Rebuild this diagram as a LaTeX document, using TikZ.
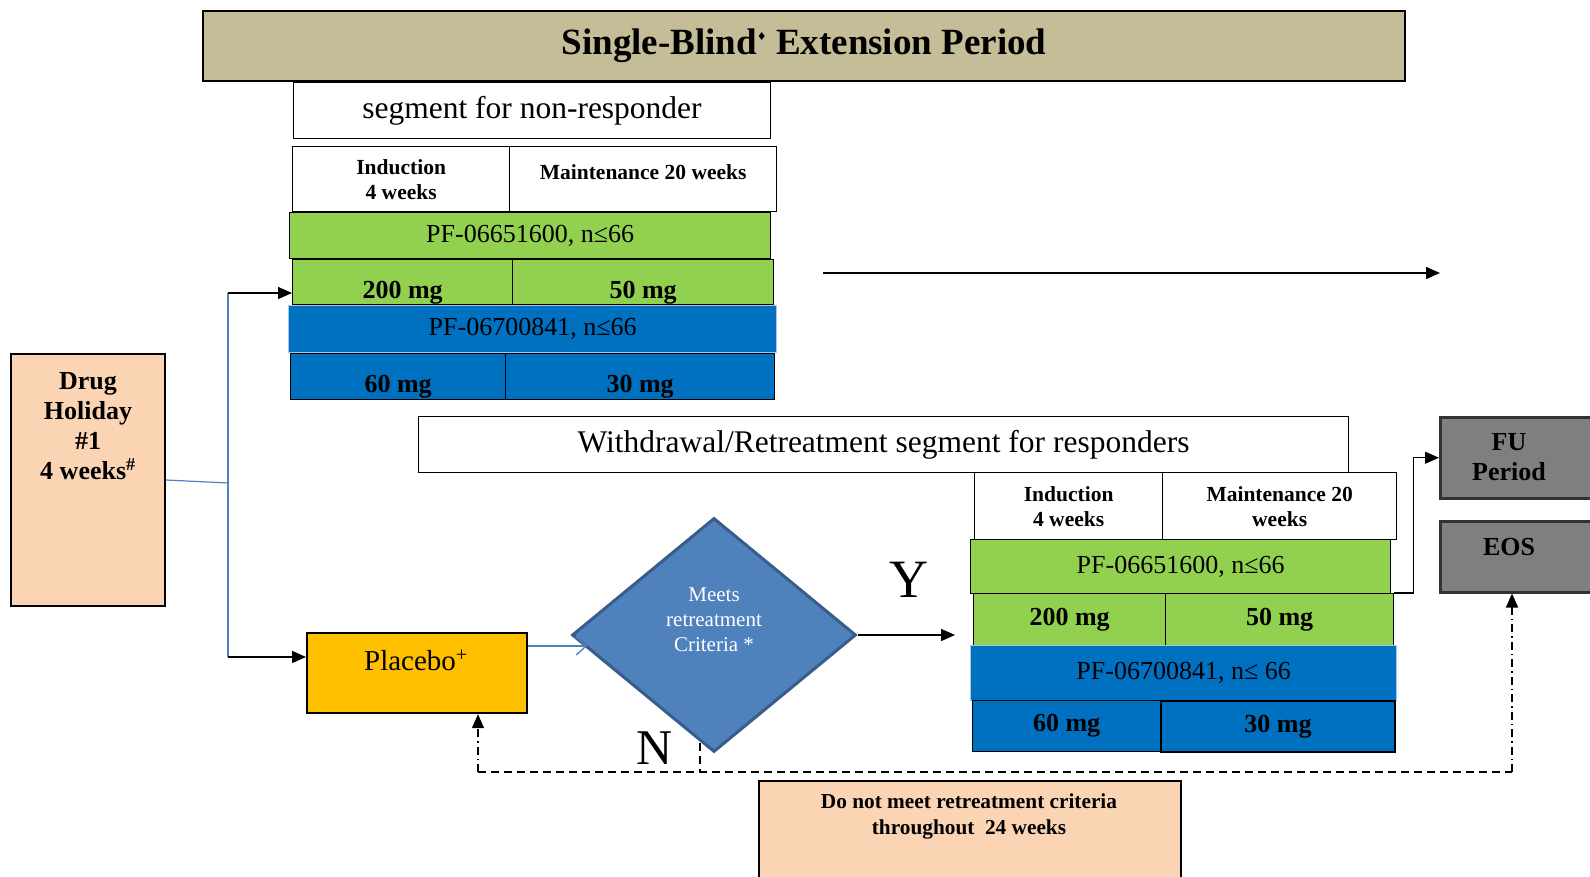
\documentclass[tikz,border=0pt]{standalone}
\usepackage{fontspec}
\setmainfont{Liberation Serif}
\newfontfamily\symfont{DejaVu Sans}
\usetikzlibrary{shapes.geometric,arrows.meta,positioning}

\definecolor{tanbar}{HTML}{C4BD97}
\definecolor{drugpeach}{HTML}{FBD4B4}
\definecolor{pfgreen}{HTML}{92D050}
\definecolor{pfblue}{HTML}{0070C0}
\definecolor{barline}{HTML}{A9C6E8}
\definecolor{placebogold}{HTML}{FFC000}
\definecolor{critblue}{HTML}{4F81BD}
\definecolor{critedge}{HTML}{385D8A}
\definecolor{fugray}{HTML}{7F7F7F}

\tikzset{
  box/.style={draw, line width=1.3pt, inner sep=0pt, anchor=north west, align=center},
  segbox/.style={box, fill=white, line width=1pt, font=\fontsize{31.5}{36}\selectfont},
  hdr/.style={box, fill=white, font=\fontsize{21.5}{25}\selectfont\bfseries},
  greenbar/.style={box, fill=pfgreen, font=\fontsize{26}{30}\selectfont},
  bluebar/.style={box, fill=pfblue, draw=barline, font=\fontsize{26}{30}\selectfont},
  dose/.style={box, font=\fontsize{26}{30}\selectfont\bfseries},
  boldtxt/.style={inner sep=0pt, align=center, font=\fontsize{26}{30}\selectfont\bfseries},
  decide/.style={diamond, draw=critedge, line width=3pt, fill=critblue, minimum width=284, minimum height=234, inner sep=0pt},
  arr/.style={-{Triangle[length=14pt,width=12pt]}, line width=1.5pt},
  bline/.style={critblue, line width=1.2pt},
  dashln/.style={line width=1.3pt, dash pattern=on 8pt off 5pt},
  dashdotln/.style={-{Triangle[length=14pt,width=12pt]}, line width=1.3pt, dash pattern=on 8pt off 4pt on 1.5pt off 4pt}
}

\begin{document}
\begin{tikzpicture}[x=1pt,y=-1pt]
    \useasboundingbox (0,0) rectangle (1590,877);
    \clip (0,0) rectangle (1590,877);

    % Period title
    \node[box, fill=tanbar, line width=2pt, minimum width=1202, minimum height=70, font=\fontsize{37}{40}\selectfont\bfseries] (title) at (202,10)
        {Single-Blind\raisebox{14pt}{\symfont\fontsize{11}{11}\selectfont ♦} Extension Period};

    % Drug holiday entity
    \node[box, fill=drugpeach, line width=2pt, minimum width=154, minimum height=252] (holiday) at (10,353) {};
    \node[boldtxt, anchor=north, below=19pt of holiday.north] (holidaytxt) {Drug\\Holiday\\\#1\\4 weeks\textsuperscript{\#}};

    % Non-responder segment
    \node[segbox, minimum width=477, minimum height=56] (nonresp) at (293,82) {segment for non-responder};
    \node[hdr, minimum width=217, minimum height=65] (indA) at (292,146) {Induction\\4 weeks};
    \node[hdr, minimum width=267, minimum height=65, text height=15pt, text depth=14pt] (mainA) at (509,146) {Maintenance 20 weeks};
    \node[greenbar, minimum width=481, minimum height=46] (pfA) at (289,212) {PF-06651600, n≤66};
    \node[dose, fill=pfgreen, minimum width=220, minimum height=45, text height=32pt, text depth=0pt] (hiA) at (292,259) {200 mg};
    \node[dose, fill=pfgreen, minimum width=261, minimum height=45, text height=32pt, text depth=0pt] (loA) at (512,259) {50 mg};
    \node[bluebar, minimum width=488, minimum height=47] (pfbA) at (288,305) {PF-06700841, n≤66};
    \node[dose, fill=pfblue, minimum width=215, minimum height=46, text height=32pt, text depth=0pt] (hibA) at (290,353) {60 mg};
    \node[dose, fill=pfblue, minimum width=269, minimum height=46, text height=32pt, text depth=0pt] (lobA) at (505,353) {30 mg};

    \coordinate (contA) at (823,273);
    \coordinate (contB) at (1440,273);
    \draw[arr] (contA) -- (contB);

    % Responder segment
    \node[segbox, minimum width=930, minimum height=56] (retreat) at (418,416) {Withdrawal/Retreatment segment for responders};
    \node[hdr, minimum width=188, minimum height=67] (indB) at (974,472) {Induction\\4 weeks};
    \node[hdr, minimum width=234, minimum height=67] (mainB) at (1162,472) {Maintenance 20\\weeks};
    \node[greenbar, minimum width=420, minimum height=54] (pfB) at (970,539) {PF-06651600, n≤66};
    \node[dose, fill=pfgreen, minimum width=192, minimum height=52] (hiB) at (973,593) {200 mg};
    \node[dose, fill=pfgreen, minimum width=228, minimum height=52] (loB) at (1165,593) {50 mg};
    \node[bluebar, minimum width=426, minimum height=55] (pfbB) at (970,645) {PF-06700841, n≤ 66};
    \node[dose, fill=pfblue, minimum width=188, minimum height=51] (hibB) at (972,700) {60 mg};
    \node[dose, fill=pfblue, minimum width=234, minimum height=51, line width=2pt] (lobB) at (1160,700) {30 mg};

    % Follow up and end of study
    \node[box, fill=fugray, draw=black!80, line width=2.5pt, minimum width=175, minimum height=81] (fu) at (1439,416) {};
    \node[boldtxt] (futxt) at (1509,457) {FU\\Period};
    \node[box, fill=fugray, draw=black!80, line width=2.5pt, minimum width=175, minimum height=71] (eos) at (1439,520) {};
    \node[boldtxt] (eostxt) at (1509,547) {EOS};
    \draw[arr, line width=1.1pt] (loB.north east) -- ++(19,0) |- (fu.west);

    % Placebo and retreatment check
    \node[box, fill=placebogold, line width=2.2pt, minimum width=220, minimum height=80] (placebo) at (306,632) {};
    \node[inner sep=0pt, font=\fontsize{29}{32}\selectfont] (placebotxt) at (416,660) {Placebo\textsuperscript{+}};
    \node[decide] (crit) at (714,635) {};
    \node[inner sep=0pt, align=center, text=white, font=\fontsize{21}{25}\selectfont] (crittxt) at (714,620) {Meets\\retreatment\\Criteria *};
    \draw[bline, line width=1.4pt, -{Straight Barb[length=10pt,width=18pt]}] (placebo.north east) ++(0,14) -- ++(59,0);

    % Routing from drug holiday
    \coordinate (fork) at (228,483);
    \coordinate (forktop) at (228,293);
    \coordinate (forkbot) at (228,657);
    \draw[bline] (holiday.east) -- (fork);
    \draw[bline] (forktop) -- (forkbot);
    \draw[arr] (forktop) -- (forktop -| hiA.west);
    \draw[arr] (forkbot) -- (forkbot -| placebo.west);

    % Y / N branches
    \coordinate (yend) at (955,635);
    \draw[arr] (crit.east) -- (yend);
    \node[font=\fontsize{54}{54}\selectfont] (ylab) at (909,580) {Y};
    \node[font=\fontsize{50}{50}\selectfont] (nlab) at (655,748) {N};

    \coordinate (nout) at (700,743);
    \coordinate (nleft) at (478,772);
    \coordinate (nright) at (1512,772);
    \draw[dashln] (nout) -- (nout |- nleft);
    \draw[dashln] (nleft) -- (nright);
    \draw[dashdotln] (nleft) -- (nleft |- placebo.south);
    \draw[dashdotln] (nright) -- (nright |- eos.south);

    % Non-retreated responders
    \node[box, fill=drugpeach, line width=2pt, minimum width=422, minimum height=110] (nomeet) at (758,780) {};
    \node[inner sep=0pt, align=center, font=\fontsize{21.3}{26}\selectfont\bfseries] (nomeettxt) at (969,816)
        {Do not meet retreatment criteria\\throughout\ \ 24 weeks};
\end{tikzpicture}
\end{document}
